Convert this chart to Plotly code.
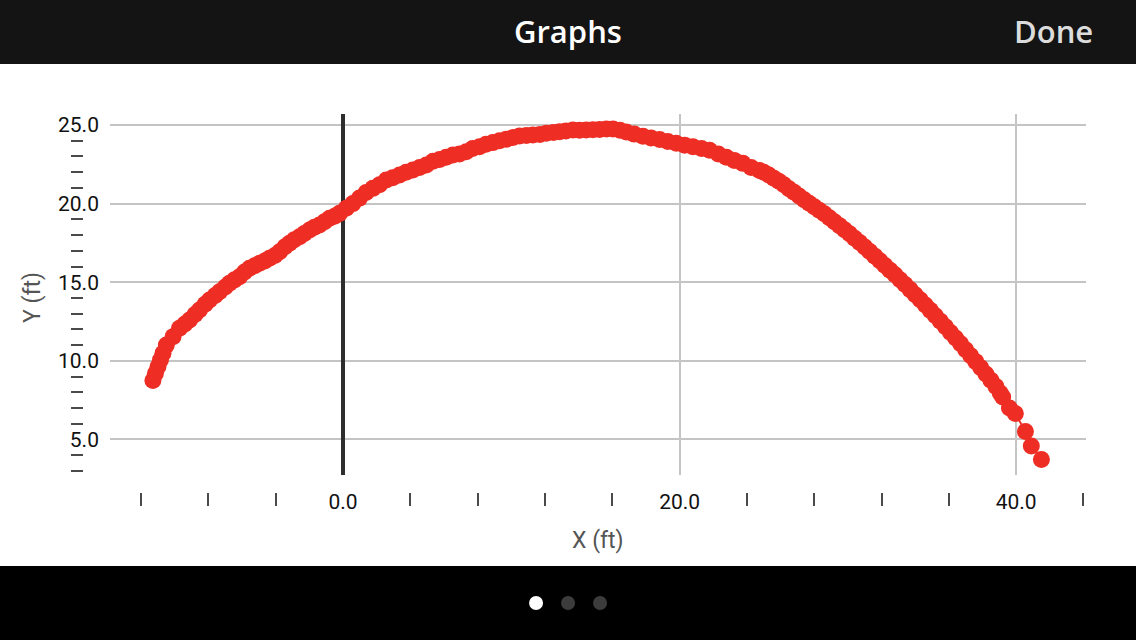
import plotly.graph_objects as go

# trajectory samples (ft)
x_ft = [-11.3, -11.15, -11.0, -10.85, -10.7, -10.5, -10.1, -9.72, -9.4, -9.12,
        -8.8, -8.53, -8.2, -7.93, -7.6, -7.34, -7.0, -6.75, -6.45, -6.15,
        -5.85, -5.56, -5.25, -4.96, -4.65, -4.37, -4.05, -3.77, -3.45, -3.18,
        -2.9, -2.58, -2.3, -1.99, -1.7, -1.4, -1.1, -0.8, -0.5, -0.21,
        0.19, 0.58, 0.98, 1.37, 1.77, 2.17, 2.57, 2.95, 3.36, 3.75,
        4.15, 4.55, 4.95, 5.35, 5.74, 6.13, 6.53, 6.92, 7.32, 7.7,
        8.11, 8.5, 8.9, 9.3, 9.7, 10.1, 10.49, 10.9, 11.28, 11.7,
        12.08, 12.5, 12.87, 13.25, 13.66, 14.05, 14.45, 14.85, 15.25, 15.65,
        16.04, 16.45, 16.83, 17.3, 17.82, 18.3, 18.81, 19.3, 19.8, 20.3,
        20.79, 21.3, 21.78, 22.3, 22.78, 23.25, 23.76, 24.25, 24.75, 25.0,
        25.3, 25.6, 25.9, 26.2, 26.5, 26.8, 27.1, 27.4, 27.7, 28.0,
        28.3, 28.6, 28.9, 29.2, 29.5, 29.8, 30.1, 30.4, 30.7, 31.0,
        31.3, 31.6, 31.9, 32.2, 32.5, 32.8, 33.1, 33.4, 33.7, 34.0,
        34.3, 34.6, 34.9, 35.2, 35.5, 35.8, 36.1, 36.4, 36.7, 37.0,
        37.3, 37.6, 37.9, 38.2, 38.5, 38.8, 39.05, 39.2, 39.6, 39.95,
        40.55, 40.9, 41.5]
y_ft = [8.75, 9.2, 9.63, 10.05, 10.48, 11.0, 11.54, 12.07, 12.35, 12.6,
        12.95, 13.24, 13.6, 13.87, 14.15, 14.4, 14.7, 14.93, 15.15, 15.35,
        15.65, 15.89, 16.05, 16.2, 16.35, 16.52, 16.7, 16.94, 17.25, 17.48,
        17.7, 17.9, 18.1, 18.32, 18.5, 18.64, 18.85, 19.07, 19.2, 19.38,
        19.7, 20.0, 20.35, 20.7, 20.97, 21.2, 21.5, 21.65, 21.82, 22.0,
        22.14, 22.3, 22.46, 22.7, 22.8, 22.95, 23.09, 23.15, 23.3, 23.5,
        23.62, 23.78, 23.88, 24.0, 24.09, 24.2, 24.3, 24.33, 24.36, 24.4,
        24.47, 24.52, 24.57, 24.62, 24.68, 24.66, 24.68, 24.7, 24.72, 24.75,
        24.75, 24.66, 24.55, 24.42, 24.28, 24.18, 24.08, 23.95, 23.84, 23.72,
        23.62, 23.5, 23.4, 23.15, 22.95, 22.75, 22.56, 22.3, 22.1, 22.0,
        21.82, 21.62, 21.42, 21.2, 20.95, 20.72, 20.48, 20.25, 20.02, 19.8,
        19.58, 19.35, 19.1, 18.85, 18.6, 18.34, 18.08, 17.8, 17.52, 17.24,
        16.95, 16.66, 16.37, 16.07, 15.77, 15.47, 15.16, 14.85, 14.53, 14.21,
        13.88, 13.55, 13.21, 12.87, 12.52, 12.17, 11.81, 11.45, 11.08, 10.71,
        10.33, 9.95, 9.56, 9.17, 8.77, 8.37, 7.95, 7.7, 7.0, 6.65,
        5.5, 4.59, 3.72]

x_labels = [0, 20, 40]
y_labels = [5, 10, 15, 20, 25]
x_minor = [-12, -8, -4, 4, 8, 12, 16, 24, 28, 32, 36, 44]
y_minor = [3, 4, 6, 7, 8, 9, 11, 12, 13, 14, 16, 17, 18, 19, 21, 22, 23, 24]

x_range = [-13.85, 44.15]
y_range = [2.74, 25.70]

RED = '#ee2e24'
FONT = 'Roboto, Inter, sans-serif'
HEAD_FONT = 'Open Sans, Roboto, sans-serif'

fig = go.Figure()

fig.add_trace(go.Scatter(
    x=x_ft, y=y_ft, mode='lines+markers',
    line=dict(color=RED, width=2),
    marker=dict(color=RED, size=17),
    hoverinfo='skip', showlegend=False))

# empty trace so the detached minor-tick axes get drawn
fig.add_trace(go.Scatter(x=[], y=[], xaxis='x2', yaxis='y2',
                         showlegend=False, hoverinfo='skip'))

fig.update_layout(
    width=1136, height=640,
    margin=dict(l=83, r=50, t=114, b=148),
    paper_bgcolor='white', plot_bgcolor='white',
    font=dict(family=FONT, color='black'),
    xaxis=dict(domain=[0.0269, 1], range=x_range, anchor='y',
               tickvals=x_labels, tickformat='.1f', ticks='',
               ticklabelstandoff=12, tickfont=dict(size=21, color='#111'),
               showgrid=True, gridcolor='#c4c4c4', gridwidth=2,
               zeroline=True, zerolinecolor='#2e2e2e', zerolinewidth=4,
               showline=False, fixedrange=True),
    yaxis=dict(domain=[0.045, 1], range=y_range, anchor='x',
               tickvals=y_labels, tickformat='.1f', ticks='',
               ticklabelstandoff=10, tickfont=dict(size=21, color='#111'),
               showgrid=True, gridcolor='#c4c4c4', gridwidth=2,
               zeroline=False, showline=False, fixedrange=True),
    xaxis2=dict(overlaying='x', anchor='free', position=0, side='bottom',
                range=x_range, tickvals=x_minor, ticks='outside', ticklen=13,
                tickwidth=2, tickcolor='#4a4a4a', showticklabels=False,
                showgrid=False, zeroline=False, showline=False),
    yaxis2=dict(overlaying='y', anchor='free', position=0, side='left',
                range=y_range, tickvals=y_minor, ticks='outside', ticklen=12,
                tickwidth=2, tickcolor='#4a4a4a', showticklabels=False,
                showgrid=False, zeroline=False, showline=False),
)

# axis titles
fig.add_annotation(text='Y (ft)', xref='paper', yref='paper', x=-0.0499, y=0.516,
                   xanchor='center', yanchor='middle', textangle=-90,
                   showarrow=False, font=dict(size=23, color='#555'))
fig.add_annotation(text='X (ft)', xref='paper', yref='paper', x=0.5135, y=-0.127,
                   xanchor='center', yanchor='middle',
                   showarrow=False, font=dict(size=23, color='#555'))

# app chrome: top bar, bottom bar, page dots
fig.add_shape(type='rect', xref='paper', yref='paper', x0=-0.1, x1=1.1,
              y0=1.1323, y1=1.32, fillcolor='#141414', line_width=0, layer='below')
fig.add_shape(type='rect', xref='paper', yref='paper', x0=-0.1, x1=1.1,
              y0=-0.41, y1=-0.1958, fillcolor='black', line_width=0, layer='below')
for cx, col in [(0.4517, 'white'), (0.4836, '#3c3c3c'), (0.5155, '#3c3c3c')]:
    fig.add_shape(type='circle', xref='paper', yref='paper',
                  xsizemode='pixel', ysizemode='pixel', xanchor=cx, yanchor=-0.2937,
                  x0=-7, x1=7, y0=-7, y1=7, fillcolor=col, line_width=0)

fig.add_annotation(text='Graphs', xref='paper', yref='paper', x=0.4836, y=1.2196,
                   xanchor='center', yanchor='middle', showarrow=False,
                   font=dict(size=31, color='white', family=HEAD_FONT, weight=600))
fig.add_annotation(text='Done', xref='paper', yref='paper', x=0.968, y=1.2196,
                   xanchor='center', yanchor='middle', showarrow=False,
                   font=dict(size=31, color='#dcdcdc', family=HEAD_FONT, weight=600))

fig.write_html("out.html", config=dict(displayModeBar=False),
               post_script="document.body.style.margin='0';")
